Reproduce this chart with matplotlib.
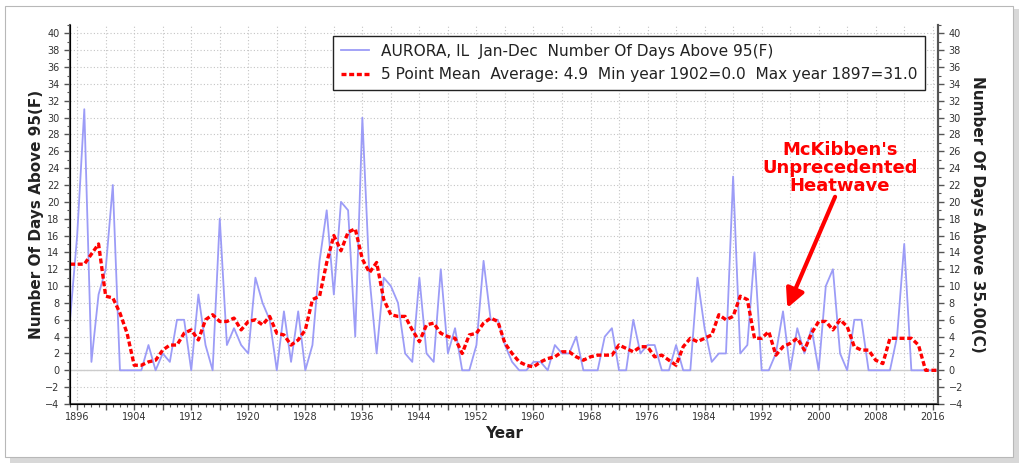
import matplotlib
matplotlib.use('Agg')
import matplotlib.pyplot as plt
from matplotlib.patches import Rectangle
from matplotlib.ticker import MultipleLocator, FixedLocator

# Aurora, IL - days above 95F per year
years = list(range(1895, 2018))
daysAbove95 = [
    6, 16, 31, 1, 9,                      # 1895-1899
    12, 22, 0, 0, 0, 0, 3, 0, 2, 1,       # 1900s
    6, 6, 0, 9, 3, 0, 18, 3, 5, 3,        # 1910s
    2, 11, 8, 6, 0, 7, 1, 7, 0, 3,        # 1920s
    13, 19, 9, 20, 19, 4, 30, 11, 2, 11,  # 1930s
    10, 8, 2, 1, 11, 2, 1, 12, 2, 5,      # 1940s
    0, 0, 3, 13, 6, 6, 3, 1, 0, 0,        # 1950s
    1, 1, 0, 3, 2, 2, 4, 0, 0, 0,         # 1960s
    4, 5, 0, 0, 6, 2, 3, 3, 0, 0,         # 1970s
    3, 0, 0, 11, 5, 1, 2, 2, 23, 2,       # 1980s
    3, 14, 0, 0, 2, 7, 0, 5, 2, 5,        # 1990s
    0, 10, 12, 2, 0, 6, 6, 0, 0, 0,       # 2000s
    0, 4, 15, 0, 0, 0, 0, 0,              # 2010-2017
]
# 5 point mean (red dashed)
fivePointMean = [
    12.6, 12.6, 12.6, 13.8, 15.0,
    8.8, 8.6, 6.8, 4.4, 0.6, 0.6, 1.0, 1.2, 2.4, 3.0,
    3.0, 4.4, 4.8, 3.6, 6.0, 6.6, 5.8, 5.8, 6.2, 4.8,
    5.8, 6.0, 5.4, 6.4, 4.4, 4.2, 3.0, 3.6, 4.8, 8.4,
    8.8, 12.8, 16.0, 14.2, 16.4, 16.8, 13.2, 11.6, 12.8, 8.4,
    6.6, 6.4, 6.4, 4.8, 3.4, 5.4, 5.6, 4.4, 4.0, 3.8,
    2.0, 4.2, 4.4, 5.6, 6.2, 5.8, 3.2, 2.0, 1.0, 0.6,
    0.4, 1.0, 1.4, 1.6, 2.2, 2.2, 1.6, 1.2, 1.6, 1.8,
    1.8, 1.8, 3.0, 2.6, 2.2, 2.8, 2.8, 1.6, 1.8, 1.2,
    0.6, 2.8, 3.8, 3.4, 3.8, 4.2, 6.6, 6.0, 6.4, 8.8,
    8.4, 3.8, 3.8, 4.6, 1.8, 2.8, 3.2, 3.8, 2.4, 4.4,
    5.8, 5.8, 4.8, 6.0, 5.2, 2.8, 2.4, 2.4, 1.2, 0.8,
    3.8, 3.8, 3.8, 3.8, 3.0, 0.0, 0.0, 0.0,
]

seriesLabel = 'AURORA, IL  Jan-Dec  Number Of Days Above 95(F)'
meanLabel = '5 Point Mean  Average: 4.9  Min year 1902=0.0  Max year 1897=31.0'
xTicks = list(range(1896, 2017, 4))
yTicks = list(range(-4, 41, 2))

axisColor = '#555555'
textColor = '#333333'
blueColor = '#9c9cf7'

fig = plt.figure(figsize=(10.24, 4.69), dpi=100, facecolor='white')

# framed screenshot look
fig.patches.append(Rectangle((0.010, 0.012), 0.985, 0.968, transform=fig.transFigure,
                             facecolor='#d8d8d8', edgecolor='none', zorder=-3))
fig.patches.append(Rectangle((0.005, 0.025), 0.984, 0.962, transform=fig.transFigure,
                             facecolor='white', edgecolor='#b8b8b8', linewidth=0.8, zorder=-2))

ax = fig.add_axes([0.0684, 0.1386, 0.8477, 0.8081])
ax.plot(years, daysAbove95, color=blueColor, linewidth=1.3, label=seriesLabel, zorder=3)
ax.plot(years, fivePointMean, color='red', linewidth=2.4, linestyle=(0, (1.5, 0.8)),
        label=meanLabel, zorder=4)
ax.axhline(0, color='#cccccc', linewidth=1.0, zorder=2)

ax.set_xlim(1895.0, 2016.75)
ax.set_ylim(-4, 41)

ax.xaxis.set_major_locator(FixedLocator(xTicks))
ax.set_xticklabels([str(y) if (y - 1896) % 8 == 0 else '' for y in xTicks])
ax.xaxis.set_minor_locator(MultipleLocator(1))
ax.set_yticks(yTicks)
ax.yaxis.set_minor_locator(MultipleLocator(1))

ax.grid(which='major', color='#c4c4c4', linestyle=(0, (1, 2)), linewidth=0.8)
ax.tick_params(axis='both', which='major', labelsize=7, colors=axisColor,
               labelcolor=textColor, length=4, width=1)
ax.tick_params(axis='both', which='minor', colors=axisColor, length=2, width=0.8)
ax.tick_params(axis='x', pad=2)

for side in ['left', 'right', 'bottom']:
    ax.spines[side].set_color(axisColor)
    ax.spines[side].set_linewidth(1.5)
ax.spines['top'].set_visible(False)

ax.set_xlabel('Year', fontsize=11, fontweight='bold', color='#222222', labelpad=3)
ax.set_ylabel('Number Of Days Above 95(F)', fontsize=11, fontweight='bold',
              color='#222222', labelpad=1)

ax2 = ax.twinx()
ax2.set_ylim(-4, 41)
ax2.set_yticks(yTicks)
ax2.yaxis.set_minor_locator(MultipleLocator(1))
ax2.tick_params(axis='y', which='major', labelsize=7, colors=axisColor,
                labelcolor=textColor, length=4, width=1)
ax2.tick_params(axis='y', which='minor', colors=axisColor, length=2, width=0.8)
ax2.spines['top'].set_visible(False)
ax2.spines['right'].set_color(axisColor)
ax2.spines['right'].set_linewidth(1.5)
ax2.set_ylabel('Number Of Days Above 35.00(C)', fontsize=11, fontweight='bold',
               color='#222222', rotation=270, labelpad=16)

leg = ax.legend(loc='upper left', bbox_to_anchor=(0.303, 0.971), borderaxespad=0,
                fontsize=11.1, frameon=True, fancybox=False, framealpha=1,
                handlelength=1.8, labelspacing=0.55, borderpad=0.5)
leg.get_frame().set_edgecolor('#222222')
leg.get_frame().set_linewidth(1.0)
for t in leg.get_texts():
    t.set_color('#222222')

ax.text(2003.0, 24.0, "McKibben's\nUnprecedented\nHeatwave", color='red',
        fontsize=13, fontweight='bold', ha='center', va='center',
        linespacing=1.0, zorder=6)
ax.annotate('', xy=(1995.6, 7.4), xytext=(2002.3, 20.6),
            arrowprops=dict(arrowstyle='-|>', color='red', lw=3,
                            mutation_scale=28, shrinkA=0, shrinkB=0), zorder=6)

fig.savefig('out.png', dpi=100, facecolor='white')
